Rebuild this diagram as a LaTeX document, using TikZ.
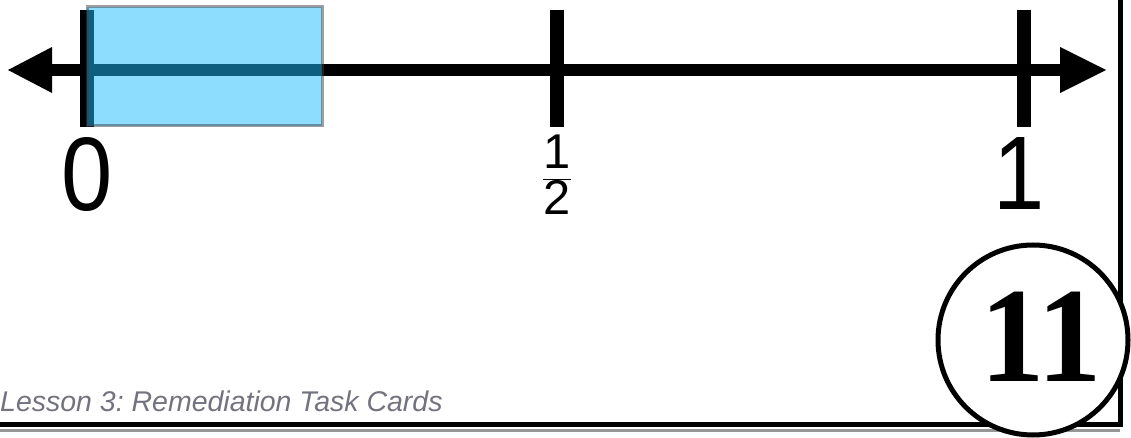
\documentclass[tikz,border=0pt]{standalone}
\usepackage{fontspec}
\setmainfont{Liberation Sans}
\newfontfamily\slabfont{Liberation Serif}
\definecolor{barblue}{RGB}{28,188,255}
\definecolor{barborder}{RGB}{64,64,72}
\definecolor{footgray}{RGB}{115,115,128}
\definecolor{edgegray}{RGB}{150,150,150}
\tikzset{
  axisline/.style={line width=12bp, black},
  tickmark/.style={line width=14bp, black},
  headtip/.style={fill=black},
  markbar/.style={fill=barblue, draw=barborder, line width=3bp, opacity=0.5},
  framestroke/.style={line width=5bp, black},
  biglabel/.style={inner sep=0pt, xscale=0.88, font=\fontsize{105}{105}\selectfont},
  fraclabel/.style={inner sep=0pt, font=\fontsize{49}{50}\selectfont},
  cardnum/.style={inner sep=0pt, xscale=0.95, font=\slabfont\bfseries\fontsize{136}{136}\selectfont},
  footer/.style={inner sep=0pt, text=footgray, font=\itshape\fontsize{28.6}{30}\selectfont}
}
\begin{document}
\frenchspacing
\begin{tikzpicture}[x=1bp,y=-1bp]
\useasboundingbox (0,0) rectangle (1131,438);
% frame
\coordinate (ftop) at (1120,0);
\coordinate (fcorner) at (1120,425);
\coordinate (fleft) at (0,425);
\draw[edgegray, line width=3bp] (0,431) -- (1120,431);
\draw[framestroke] (ftop) -- (fcorner) -- (fleft);
% number line
\coordinate (lbase) at (52,70);
\coordinate (rbase) at (1060,70);
\draw[axisline] (lbase) -- (rbase);
\fill[headtip] (8,70) -- (52,47) -- (52,93) -- cycle;
\fill[headtip] (1106,70) -- (1060,47) -- (1060,93) -- cycle;
% ticks
\draw[tickmark] (87,10) coordinate (t0a) -- (87,127) coordinate (t0b);
\draw[tickmark] (557,10) coordinate (thalfa) -- (557,127) coordinate (thalfb);
\draw[tickmark] (1024,10) coordinate (t1a) -- (1024,127) coordinate (t1b);
% shaded bar
\path[markbar] (87,7) rectangle (322,126);
% labels
\node[biglabel, anchor=base] (lzero) at (87,211) {0};
\node[fraclabel] (lhalf) at (557,175) {\frenchspacing$\displaystyle\frac{\mbox{1}}{\mbox{2}}$};
\node[biglabel, anchor=base] (lone) at (1019,210) {1};
% card number circle
\node[circle, draw=black, fill=white, line width=5bp, minimum size=190bp, inner sep=0pt] (badge) at (1033,340) {};
\node[cardnum, anchor=base] (cardno) at (1041,382) {11};
% footer
\node[footer, anchor=base west] (foot) at (0,412) {\frenchspacing Lesson 3: Remediation Task Cards};
\end{tikzpicture}
\end{document}
